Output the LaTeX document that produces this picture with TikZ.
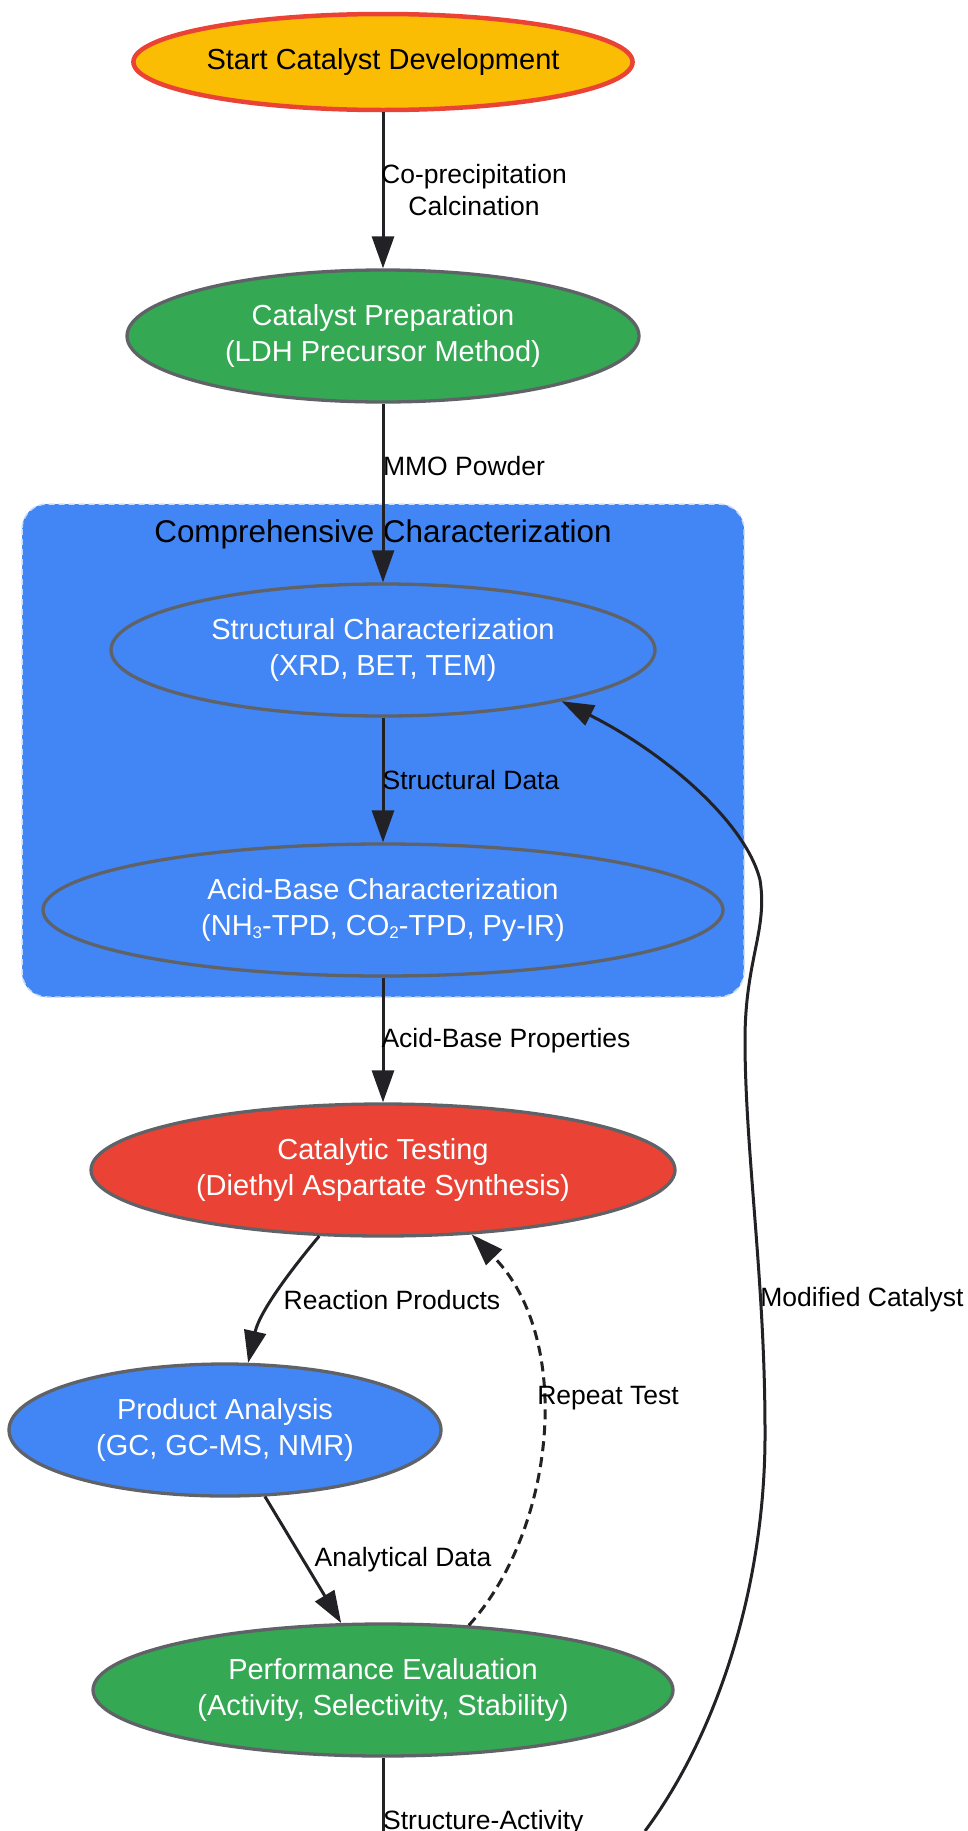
\documentclass[tikz,border=0pt]{standalone}
\usepackage{fontspec}
\setmainfont{Liberation Sans}
\usetikzlibrary{shapes.geometric,arrows.meta}
\definecolor{gyellow}{HTML}{FBBC04}
\definecolor{gred}{HTML}{EA4335}
\definecolor{ggreen}{HTML}{34A853}
\definecolor{gblue}{HTML}{4285F4}
\definecolor{ggrey}{HTML}{5F6368}
\definecolor{edgec}{HTML}{222226}
\definecolor{clborder}{HTML}{C9DCFC}
\newcommand{\subnum}[1]{\raisebox{-0.12em}{\fontsize{17}{17}\selectfont #1}}
\begin{document}
\begin{tikzpicture}[x=1pt,y=-1pt,
  flownode/.style={ellipse, draw=ggrey, line width=3.3pt, inner sep=0pt, align=center, text=white, font=\fontsize{29}{36}\selectfont},
  elabel/.style={font=\fontsize{26.5}{31.5}\selectfont, text=black, align=center, inner sep=0pt},
  flow/.style={draw=edgec, line width=3pt, -{Triangle[length=32pt,width=22pt]}},
]
\useasboundingbox (0,0) rectangle (967,1831);
\clip (0,0) rectangle (967,1831);

% cluster
\draw[fill=gblue, draw=clborder, line width=1.5pt, dash pattern=on 6pt off 4pt, rounded corners=25pt] (22,504) rectangle (744,997);
\node[font=\fontsize{31.4}{36}\selectfont, text=black, inner sep=0pt] (cltitle) at (383,534) {Comprehensive Characterization};

% nodes
\node[flownode, fill=gyellow, draw=gred, line width=4.5pt, text=black, minimum width=492pt, minimum height=96pt] (start) at (383,62) {Start Catalyst Development};
\node[flownode, fill=ggreen, minimum width=512pt, minimum height=132pt] (prep) at (383,336) {Catalyst Preparation\\(LDH Precursor Method)};
\node[flownode, fill=gblue, minimum width=544pt, minimum height=132pt] (struct) at (383,650) {Structural Characterization\\(XRD, BET, TEM)};
\node[flownode, fill=gblue, minimum width=680pt, minimum height=132pt] (acid) at (383,910) {Acid-Base Characterization\\(NH\subnum{3}-TPD, CO\subnum{2}-TPD, Py-IR)};
\node[flownode, fill=gred, minimum width=584pt, minimum height=132pt] (cat) at (383,1170) {Catalytic Testing\\(Diethyl Aspartate Synthesis)};
\node[flownode, fill=gblue, minimum width=432pt, minimum height=132pt] (prod) at (225,1430) {Product Analysis\\(GC, GC-MS, NMR)};
\node[flownode, fill=ggreen, minimum width=580pt, minimum height=132pt] (perf) at (383,1690) {Performance Evaluation\\(Activity, Selectivity, Stability)};

\coordinate (mcfoot) at (645,1831);
\coordinate (sabottom) at (383,1831);

% edges
\draw[flow] (start) -- (prep);
\draw[flow] (prep) -- (struct);
\draw[flow] (struct) -- (acid);
\draw[flow] (acid) -- (cat);
\draw[flow] (cat.226) .. controls (295,1265) and (260,1310) .. (prod.71);
\draw[flow] (prod.301) -- (perf.122);
\draw[flow, dash pattern=on 10pt off 6pt] (perf.37) .. controls (555,1530) and (575,1340) .. (cat.324);
\draw[draw=edgec, line width=3pt] (perf) -- (sabottom);
\draw[flow] (mcfoot) .. controls (720,1730) and (766,1580) .. (765,1430)
  .. controls (765,1280) and (745,1150) .. (745,1040)
  .. controls (745,960) and (768,930) .. (760,880)
  .. controls (745,820) and (660,750) .. (struct.344);

% edge labels
\node[elabel] (l1) at (474,190) {Co-precipitation\\Calcination};
\node[elabel] (l2) at (464,466) {MMO Powder};
\node[elabel] (l3) at (471,780) {Structural Data};
\node[elabel] (l4) at (506,1041) {Acid-Base Properties};
\node[elabel] (l5) at (392,1300) {Reaction Products};
\node[elabel] (l6) at (608,1398) {Repeat Test};
\node[elabel] (l7) at (403,1560) {Analytical Data};
\node[elabel] (l8) at (862,1300) {Modified Catalyst};
\node[elabel, anchor=base west] (l9) at (383,1829) {Structure-Activity};
\end{tikzpicture}
\end{document}
